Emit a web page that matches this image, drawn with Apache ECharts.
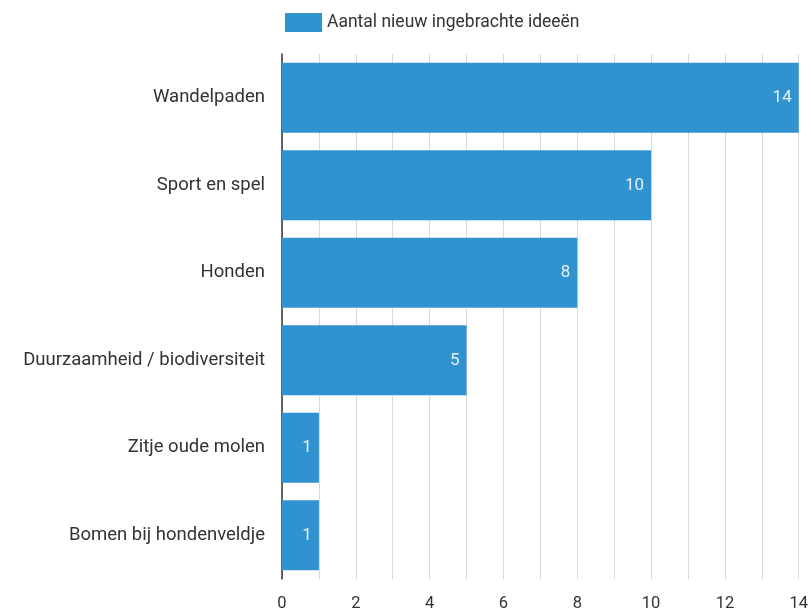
<!DOCTYPE html>
<html><head><meta charset="utf-8">
<script src="https://cdn.jsdelivr.net/npm/echarts@6/dist/echarts.min.js"></script>
<style>html,body{margin:0;padding:0;background:#fff}#c{width:811px;height:612px}</style>
</head><body><div id="c"></div>
<script>
const categories = ["Wandelpaden","Sport en spel","Honden","Duurzaamheid / biodiversiteit","Zitje oude molen","Bomen bij hondenveldje"];
const values = [14,10,8,5,1,1];
const seriesName = "Aantal nieuw ingebrachte ideeën";
const xTicks = [0,2,4,6,8,10,12,14];

const chart = echarts.init(document.getElementById('c'), null, {renderer:'canvas'});
chart.setOption({
  animation:false,
  textStyle:{fontFamily:'Roboto'},
  legend:{top:8,left:280,itemWidth:37,itemHeight:19,itemGap:8,
    icon:'rect',
    textStyle:{fontSize:17.5,color:'#333',fontFamily:'Roboto'},
    data:[seriesName]},
  grid:{left:282,right:12,top:54,bottom:32,containLabel:false},
  xAxis:{type:'value',min:0,max:14,interval:1,
    axisLine:{show:false},axisTick:{show:false},
    splitLine:{show:true,lineStyle:{color:'#d9d9d9',width:1}},
    axisLabel:{fontSize:16.5,color:'#333',margin:16,fontFamily:'Roboto',
      formatter:v=>xTicks.includes(v)?String(v):''}},
  yAxis:{type:'category',data:categories,inverse:true,
    axisLine:{show:true,lineStyle:{color:'#333',width:1.5}},
    axisTick:{show:false},
    axisLabel:{fontSize:18.5,color:'#333',margin:17,fontFamily:'Roboto',padding:[0,0,8,0]}},
  series:[{name:seriesName,type:'bar',data:values,barCategoryGap:'20%',
    itemStyle:{color:'#3192d0'},
    label:{show:true,position:'insideRight',distance:7,color:'#e3f1fb',fontSize:17,fontFamily:'Roboto'}}]
});
</script></body></html>
